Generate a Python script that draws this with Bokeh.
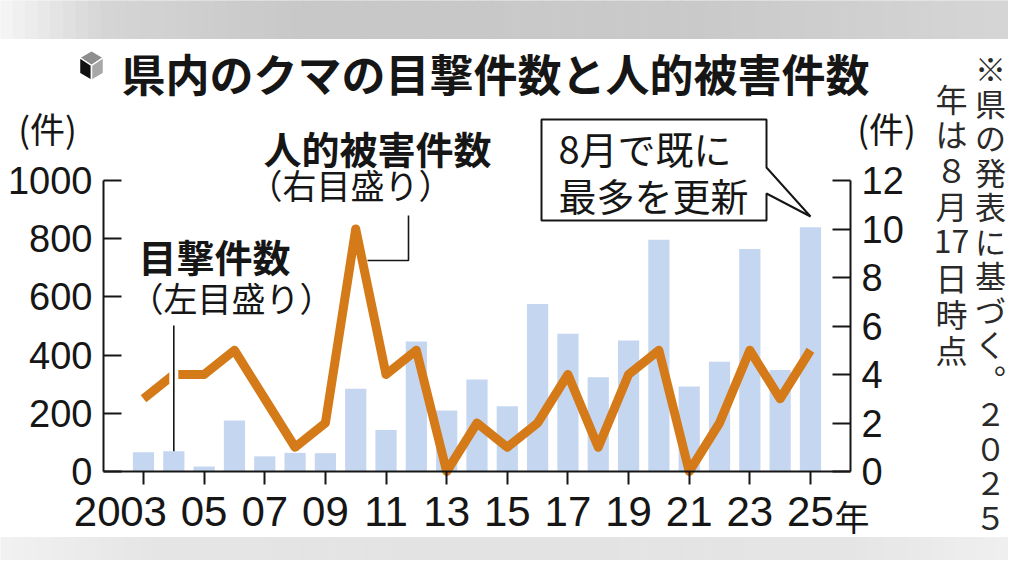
import numpy as np
from bokeh.plotting import figure
from bokeh.models import Range1d, LinearAxis, FixedTicker, Label
from bokeh.core.properties import value
from bokeh.embed import file_html
from bokeh.resources import INLINE

# data
years = list(range(2003, 2026))
sightings = [66, 70, 17, 175, 52, 64, 63, 284, 143, 447, 210, 316,
             224, 576, 473, 324, 450, 796, 292, 377, 765, 349, 839]
injuries = [3, 4, 4, 5, 3, 1, 2, 10, 4, 5, 0, 2, 1, 2, 4, 1, 4, 5, 0, 2, 5, 3, 5]

left_ticks = [0, 200, 400, 600, 800, 1000]
right_ticks = [0, 2, 4, 6, 8, 10, 12]
x_ticks = list(range(2003, 2026, 2))
x_labels = ["03", "05", "07", "09", "11", "13", "15", "17", "19", "21", "23", "25"]

title = "県内のクマの目撃件数と人的被害件数"
note_right = list("※県の発表に基づく︒２０２５")
note_left = ["年", "は", "８", "月", "17", "日", "時", "点"]

JP = "Noto Sans CJK JP"
NUM = "Liberation Sans"
BAR = "#c5d7f0"
ORANGE = "#d47a18"
INK = "#161616"

W, H = 1008, 560
# canvas pixel -> data (plot area of the chart: x 103..850, y 180..471)
PXY = 747 / 24.64


def X(px):
    return 2003 + (px - 143) / PXY


def Y(py):
    return (471 - py) * 1000 / 291


def YR(py):
    return (471 - py) * 12 / 291


# the frame covers the whole canvas; axes are pinned with fixed_location
p = figure(width=W, height=H, x_range=Range1d(X(0), X(W)),
           y_range=Range1d(Y(H), Y(0)), output_backend="svg",
           toolbar_location=None, min_border=0, outline_line_color=None,
           x_axis_location=None, y_axis_location=None,
           background_fill_color="white", border_fill_color="white")
p.grid.visible = False
p.extra_y_ranges = {"right": Range1d(YR(H), YR(0))}

# grey bands at top and bottom of the page
n = 80
edges = np.linspace(X(0), X(W), n + 1)
t = (np.arange(n) + 0.5) / n
for lv, y0, y1 in [
    (np.interp(t, [0, 0.1, 0.3, 0.7, 1], [246, 214, 200, 202, 214]), Y(38), Y(0)),
    (np.interp(t, [0, 0.15, 0.5, 0.85, 1], [242, 230, 227, 230, 240]), Y(H), Y(537)),
]:
    cols = ["#%02x%02x%02x" % (int(v), int(v), int(v)) for v in lv]
    p.quad(left=edges[:-1], right=edges[1:], bottom=y0, top=y1,
           fill_color=cols, line_color=cols, line_width=1)

p.vbar(x=years, top=sightings, width=0.7, fill_color=BAR, line_color=None)
p.line(years, injuries, y_range_name="right", line_width=9, line_color=ORANGE,
       line_join="round")

# leader lines
p.line([years[1], years[1]], [Y(340), Y(405)], line_color="white", line_width=9)
p.line([years[1], years[1]], [Y(325), sightings[1]], line_color=INK, line_width=1.6)
p.line([X(367), X(408), X(408)], [Y(260), Y(260), Y(215)], line_color=INK, line_width=1.6)

# axes
yl = LinearAxis(fixed_location=X(103), bounds=(0, 1000),
                ticker=FixedTicker(ticks=left_ticks))
yr = LinearAxis(y_range_name="right", fixed_location=X(850), bounds=(0, 12),
                ticker=FixedTicker(ticks=right_ticks))
xa = LinearAxis(fixed_location=0, bounds=(X(103), X(850)),
                ticker=FixedTicker(ticks=x_ticks))
p.add_layout(yl, "left")
p.add_layout(yr, "right")
p.add_layout(xa, "below")
for ax in (yl, yr):
    ax.major_tick_in = 18
    ax.major_tick_out = 0
    ax.major_label_standoff = 11
    ax.major_label_text_font_size = "38px"
for ax in (yl, yr, xa):
    ax.minor_tick_line_color = None
    ax.axis_line_width = 2
    ax.axis_line_color = INK
    ax.major_tick_line_width = 2
    ax.major_tick_line_color = INK
    ax.major_label_text_font = NUM
    ax.major_label_text_color = INK

xa.major_label_overrides = dict(zip(x_ticks, x_labels))
xa.major_tick_in = 0
xa.major_tick_out = 13
xa.major_label_standoff = 12
xa.major_label_text_font_size = "42px"


def label(text, px, py, size, bold=False, align="center", baseline="middle",
          font=JP, color=INK, **kw):
    p.add_layout(Label(x=X(px), y=Y(py), text=text, text_font=font,
                       text_font_size=f"{size}px",
                       text_font_style="bold" if bold else "normal",
                       text_align=align, text_baseline=baseline,
                       text_color=color, **kw))


# prefix / suffix of the year labels
p.add_layout(Label(x=x_ticks[0], y=Y(496), x_offset=-23, text="20", text_font=NUM,
                   text_font_size="42px", text_align="right", text_baseline="top",
                   text_color=INK))
p.add_layout(Label(x=x_ticks[-1], y=Y(515), x_offset=24, text="年", text_font=JP,
                   text_font_size="35px", text_align="left", text_baseline="middle",
                   text_color=INK))

# cube icon before the title
cx, cy = 91, 65
faces = [
    ([(91, 50), (103, 57), (cx, cy), (79, 57)], "#8e8e8e"),
    ([(79, 57), (cx, cy), (91, 80), (79, 73)], "#111111"),
    ([(cx, cy), (103, 57), (103, 73), (91, 80)], "#a8a8a8"),
]
p.patches(xs=[[X(a) for a, b in f] for f, c in faces],
          ys=[[Y(b) for a, b in f] for f, c in faces],
          fill_color=[c for f, c in faces], line_color="white", line_width=1.5)
label(title, 495, 72, 44, bold=True)

# unit labels
label("(件)", 47, 127, 35)
label("(件)", 886, 127, 35)

# series labels
label("人的被害件数", 377, 147, 38, bold=True)
label("（右目盛り）", 350, 184, 34)
label("目撃件数", 214, 255, 38, bold=True)
label("（左目盛り）", 231, 297, 34)

# callout
box = [(541, 119), (766, 119), (766, 167), (810, 216), (766, 193), (766, 220), (541, 220)]
p.patch([X(a) for a, b in box], [Y(b) for a, b in box], fill_color="white",
        line_color=INK, line_width=2)
label("8月で既に", 558, 147, 38, align="left")
label("最多を更新", 558, 194, 38, align="left")

# vertical note, one character per row
for chars, cxp, top_y, pitch, size in [(note_right, 990, 67, 34.5, 31),
                                       (note_left, 951, 97, 35.9, 32)]:
    p.text(x=[X(cxp)] * len(chars),
           y=[Y(top_y + i * pitch) for i in range(len(chars))],
           text=chars, text_font=value(JP), text_font_size=f"{size}px",
           text_align="center", text_baseline="middle", text_color="#2a2a2a")

open("out.html", "w").write(file_html(p, INLINE))
